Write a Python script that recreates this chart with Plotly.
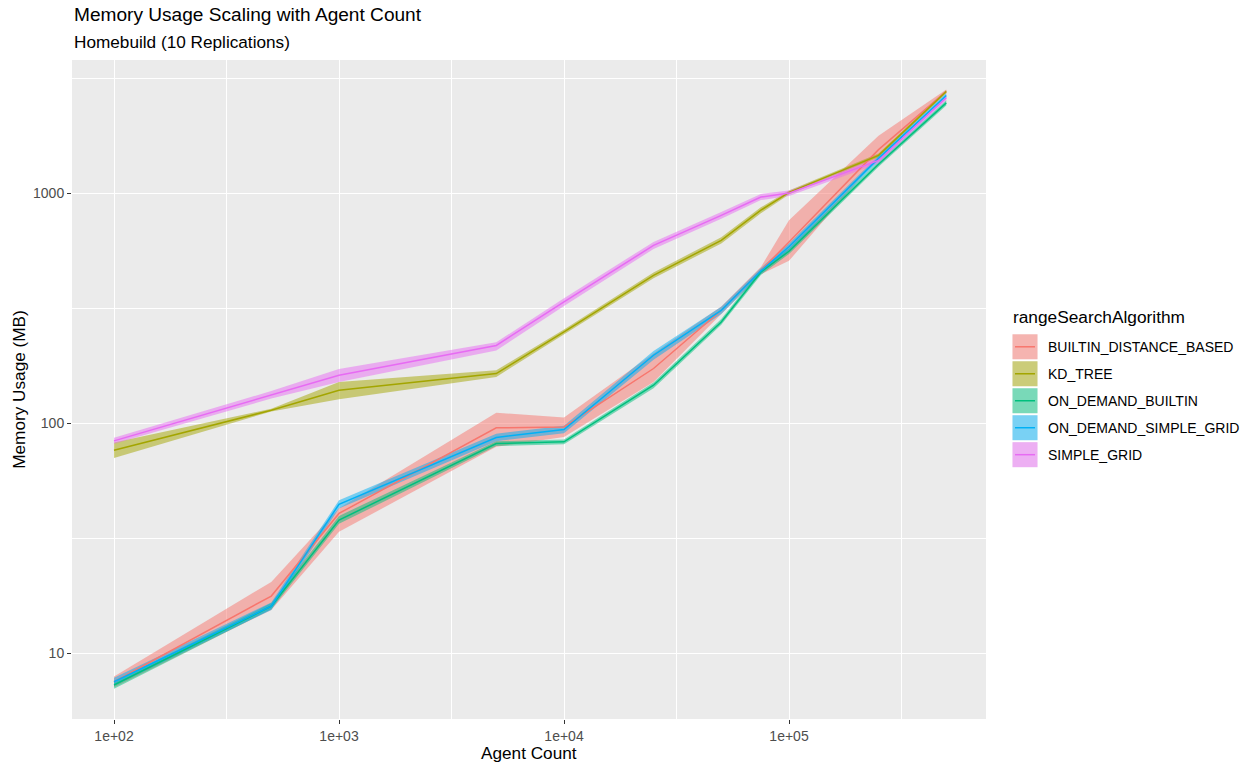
import plotly.graph_objects as go

agent_count = [100, 500, 1000, 5000, 10000, 25000, 50000, 75000, 100000, 250000, 500000]

series_names = ["BUILTIN_DISTANCE_BASED", "KD_TREE", "ON_DEMAND_BUILTIN",
                "ON_DEMAND_SIMPLE_GRID", "SIMPLE_GRID"]
series_colors = ["#F8766D", "#A3A500", "#00BF7D", "#00B0F6", "#E76BF3"]

builtin_mean = [7.5, 17.7, 40.5, 95.5, 96.4, 173, 310, 462, 614, 1550, 2780]
builtin_low = [7.1, 15.4, 33.7, 79, 87, 151, 298, 445, 509, 1440, 2730]
builtin_high = [7.9, 20.4, 42.7, 111, 106, 201, 322, 478, 765, 1780, 2830]

kd_mean = [76.3, 113.9, 139.2, 164.4, 249.5, 440, 625, 845, 1010, 1463, 2777]
kd_low = [70.5, 112.5, 127, 159, 243, 427, 606, 820, 990, 1435, 2740]
kd_high = [82.5, 115.5, 151, 170, 256, 453, 645, 870, 1030, 1490, 2815]

odb_mean = [7.26, 16.0, 37.9, 81.6, 83, 146.3, 275.8, 455, 560, 1340, 2478]
odb_low = [7.0, 15.5, 36.5, 79.5, 81, 142, 268, 442, 545, 1305, 2410]
odb_high = [7.5, 16.5, 39.5, 83.5, 85, 150.5, 284, 468, 576, 1375, 2545]

odsg_mean = [7.5, 16.0, 44.4, 86.7, 93.9, 197.6, 310, 460, 586, 1420, 2667]
odsg_low = [7.2, 15.4, 42.6, 83.5, 90.5, 189, 299, 446, 566, 1380, 2600]
odsg_high = [7.8, 16.6, 46.2, 90, 97.5, 206, 321, 474, 606, 1460, 2735]

sg_mean = [83.8, 133, 161.7, 218, 337, 594, 802, 964, 1003, 1391, 2606]
sg_low = [81.5, 128, 151, 207, 324, 573, 775, 935, 975, 1350, 2540]
sg_high = [86.5, 138, 172, 225, 350, 615, 830, 995, 1030, 1430, 2670]

means = [builtin_mean, kd_mean, odb_mean, odsg_mean, sg_mean]
lows = [builtin_low, kd_low, odb_low, odsg_low, sg_low]
highs = [builtin_high, kd_high, odb_high, odsg_high, sg_high]

x_tick_vals = [100, 1000, 10000, 100000]
x_tick_text = ["1e+02", "1e+03", "1e+04", "1e+05"]
x_minor_vals = [10 ** 2.5, 10 ** 3.5, 10 ** 4.5, 10 ** 5.5]
y_tick_vals = [10, 100, 1000]
y_tick_text = ["10", "100", "1000"]
y_minor_vals = [10 ** 1.5, 10 ** 2.5, 10 ** 3.5]

title_text = "Memory Usage Scaling with Agent Count"
subtitle_text = "Homebuild (10 Replications)"
x_title = "Agent Count"
y_title = "Memory Usage (MB)"
legend_title = "rangeSearchAlgorithm"


def rgba(hex_color, a):
    h = hex_color.lstrip("#")
    r, g, b = int(h[0:2], 16), int(h[2:4], 16), int(h[4:6], 16)
    return f"rgba({r},{g},{b},{a})"


fig = go.Figure()

# ribbons first
for name, col, lo, hi in zip(series_names, series_colors, lows, highs):
    fig.add_trace(go.Scatter(
        x=agent_count + agent_count[::-1],
        y=hi + lo[::-1],
        fill="toself", fillcolor=rgba(col, 0.5),
        line=dict(width=0), mode="lines", showlegend=False, hoverinfo="skip",
    ))

# lines
for name, col, m in zip(series_names, series_colors, means):
    fig.add_trace(go.Scatter(
        x=agent_count, y=m, mode="lines", name=name,
        line=dict(color=col, width=1.5), showlegend=False,
    ))

FONT = "Liberation Sans, Arial, sans-serif"
W, H = 1253, 765
L, R, T, B = 72, 986, 59.5, 719

TICK_SIZE = 14
LABEL_SIZE = 14
AXIS_TITLE_SIZE = 17.2
LEGEND_TITLE_SIZE = 17.3

fig.update_layout(
    width=W, height=H,
    margin=dict(l=L, r=W - R, t=T, b=H - B, pad=0, autoexpand=False),
    paper_bgcolor="white", plot_bgcolor="#EBEBEB",
    font=dict(family=FONT, color="#000000"),
    showlegend=False,
)

fig.update_xaxes(
    type="log", range=[2 - 42 / 225, 2 + 872 / 225], automargin=False,
    tickmode="array", tickvals=x_tick_vals, ticktext=x_tick_text,
    showgrid=True, gridcolor="white", gridwidth=1.1,
    minor=dict(tickmode="array", tickvals=x_minor_vals, showgrid=True,
               gridcolor="white", gridwidth=0.5, ticks=""),
    ticks="outside", ticklen=4, tickcolor="#333333", tickwidth=1.1,
    tickfont=dict(size=TICK_SIZE, color="#4D4D4D", family=FONT),
    zeroline=False, showline=False,
)
fig.update_yaxes(
    type="log", range=[1 - 66 / 230, 1 + 593.5 / 230], automargin=False,
    tickmode="array", tickvals=y_tick_vals, ticktext=y_tick_text,
    showgrid=True, gridcolor="white", gridwidth=1.1,
    minor=dict(tickmode="array", tickvals=y_minor_vals, showgrid=True,
               gridcolor="white", gridwidth=0.5, ticks=""),
    ticks="outside", ticklen=4, tickcolor="#333333", tickwidth=1.1,
    tickfont=dict(size=TICK_SIZE, color="#4D4D4D", family=FONT),
    zeroline=False, showline=False,
    title=dict(text=y_title, font=dict(size=AXIS_TITLE_SIZE, color="black", family=FONT), standoff=3),
)


def px_x(p):
    return (p - L) / (R - L)


def px_y(p):
    return (B - p) / (B - T)


annotations = [
    dict(text=title_text, x=px_x(72), y=px_y(14), xref="paper", yref="paper",
         xanchor="left", yanchor="middle", showarrow=False,
         font=dict(size=19.1, color="black", family=FONT)),
    dict(text=subtitle_text, x=px_x(72), y=px_y(41), xref="paper", yref="paper",
         xanchor="left", yanchor="middle", showarrow=False,
         font=dict(size=17.2, color="black", family=FONT)),
    dict(text=x_title, x=0.5, y=px_y(741.5), xref="paper", yref="paper",
         xanchor="center", yanchor="top", showarrow=False,
         font=dict(size=AXIS_TITLE_SIZE, color="black", family=FONT)),
    dict(text=legend_title, x=px_x(1011), y=px_y(317), xref="paper", yref="paper",
         xanchor="left", yanchor="middle", showarrow=False,
         font=dict(size=LEGEND_TITLE_SIZE, color="black", family=FONT)),
]
shapes = []
key_top = 334
pitch = 27
for i, (name, col) in enumerate(zip(series_names, series_colors)):
    y0 = key_top + i * pitch
    y1 = y0 + 25
    shapes.append(dict(type="rect", xref="paper", yref="paper",
                       x0=px_x(1012.5), x1=px_x(1037.5), y0=px_y(y1), y1=px_y(y0),
                       fillcolor="#F2F2F2", line=dict(width=0), layer="above"))
    shapes.append(dict(type="rect", xref="paper", yref="paper",
                       x0=px_x(1012.5), x1=px_x(1037.5), y0=px_y(y1), y1=px_y(y0),
                       fillcolor=rgba(col, 0.5), line=dict(width=0), layer="above"))
    shapes.append(dict(type="line", xref="paper", yref="paper",
                       x0=px_x(1015), x1=px_x(1035), y0=px_y((y0 + y1) / 2), y1=px_y((y0 + y1) / 2),
                       line=dict(color=col, width=1.5), layer="above"))
    annotations.append(dict(text=name, x=px_x(1046), y=px_y((y0 + y1) / 2),
                            xref="paper", yref="paper", xanchor="left", yanchor="middle",
                            showarrow=False, font=dict(size=LABEL_SIZE, color="black", family=FONT)))

fig.update_layout(annotations=annotations, shapes=shapes)

fig.write_html("out.html")
